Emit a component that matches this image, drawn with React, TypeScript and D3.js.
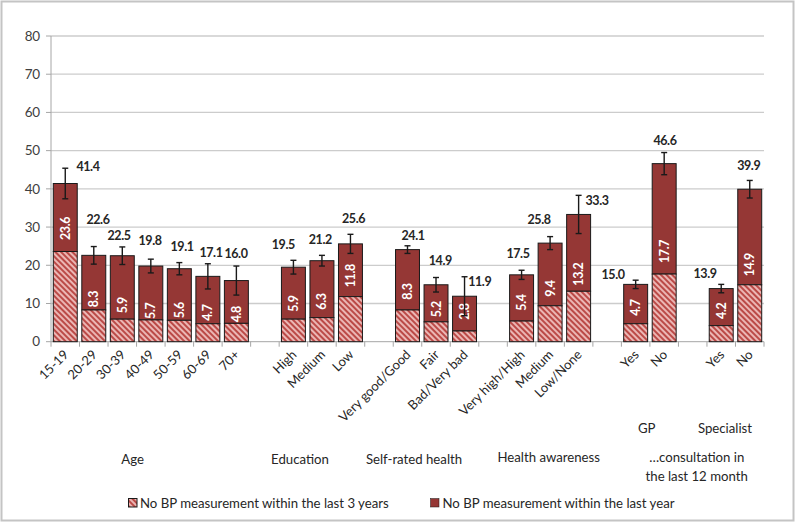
import React from "react";
import * as d3 from "d3";

// ---- data ----
const categories = [
  "15-19", "20-29", "30-39", "40-49", "50-59", "60-69", "70+",
  "High", "Medium", "Low",
  "Very good/Good", "Fair", "Bad/Very bad",
  "Very high/High", "Medium", "Low/None",
  "Yes", "No",
  "Yes", "No",
];
const groupOf = [0, 0, 0, 0, 0, 0, 0, 1, 1, 1, 2, 2, 2, 3, 3, 3, 4, 4, 5, 5];
const groupNames = ["Age", "Education", "Self-rated health", "Health awareness", "GP", "Specialist"];
const noteLines = ["\u2026consultation in", "the last 12 month"];
// total: no BP measurement within the last year
const lastYear = [41.4, 22.6, 22.5, 19.8, 19.1, 17.1, 16.0, 19.5, 21.2, 25.6, 24.1, 14.9, 11.9, 17.5, 25.8, 33.3, 15.0, 46.6, 13.9, 39.9];
// no BP measurement within the last 3 years
const last3Years = [23.6, 8.3, 5.9, 5.7, 5.6, 4.7, 4.8, 5.9, 6.3, 11.8, 8.3, 5.2, 2.8, 5.4, 9.4, 13.2, 4.7, 17.7, 4.2, 14.9];
const errorHalf = [4.0, 2.3, 2.3, 1.8, 1.6, 3.3, 3.8, 1.8, 1.4, 2.5, 1.0, 1.9, 5.1, 1.2, 1.7, 5.0, 1.1, 2.9, 1.1, 2.3];
const yTicks = [0, 10, 20, 30, 40, 50, 60, 70, 80];
const seriesNames = ["No BP measurement within the last 3 years", "No BP measurement within the last year"];

// ---- layout (label nudges, px) ----
const totalLabelNudge: [number, number][] = [
  [22.7, -16.8], [4.2, -36.3], [-3.3, -20.7], [-0.8, -25.3], [2.7, -22], [3.1, -24.1], [-0.4, -27.3],
  [-10.1, -22.2], [-1.6, -20.7], [3.1, -24.9],
  [5.5, -14.6], [4.3, -24.1], [15.2, -15.2],
  [-3.6, -21.5], [-11.1, -24.1], [18.4, -14.4],
  [-22.6, -10.1], [0.8, -22.9],
  [-16.2, -14.6], [-1, -23.5],
];
const innerLabelGap = [10.5, 1.7, 4.8, 0, 1, 2, 0, 6.5, 7, 8.3, 9.3, 3.5, 10.3, 9.4, 8, 4.6, 7, 10, 5.7, 7.5];
const groupLabelPos: [number, number][] = [
  [132.7, 459], [300, 459], [414, 459], [548.7, 457.5], [646.7, 428], [725, 428],
];

const W = 800;
const H = 523;
const FONT = "Lato, 'Open Sans', sans-serif";
const DARK = "#953735";
const TXT = "#262626";

export default function App() {
  const slots: string[] = [];
  const slotOf: number[] = [];
  categories.forEach((c, i) => {
    if (i > 0 && groupOf[i] !== groupOf[i - 1]) slots.push("gap" + i);
    slotOf.push(slots.length);
    slots.push("c" + i);
  });

  const x = d3.scaleBand<string>().domain(slots).range([51, 764]).paddingInner(0.16).paddingOuter(0.08);
  const y = d3.scaleLinear().domain([0, 80]).range([341.7, 36]);
  const step = x.step();
  const bw = x.bandwidth();
  const cx = (i: number) => (x(slots[slotOf[i]]) as number) + bw / 2;
  const boundaries = d3.range(slots.length + 1).map((k) => 51 + k * step);

  return (
    <svg width={W} height={H} style={{ position: "absolute", left: 0, top: 0, background: "#fff" }} fontFamily={FONT}>
      <defs>
        <pattern id="hatch" patternUnits="userSpaceOnUse" width="4" height="4" patternTransform="rotate(-45)">
          <rect width="4" height="4" fill="#ebb6b4" />
          <rect width="2" height="4" fill="#bb4a47" />
        </pattern>
      </defs>
      <rect x={1.5} y={1.5} width={792} height={519} fill="#fff" stroke="#c4c4c4" strokeWidth={2} />

      {/* grid */}
      {yTicks.map((t) => (
        <g key={t}>
          {t > 0 && <line x1={51} x2={764} y1={y(t)} y2={y(t)} stroke="#cccccc" strokeWidth={1.3} />}
          <line x1={46} x2={51} y1={y(t)} y2={y(t)} stroke="#a6a6a6" />
          <text x={39.5} y={y(t)} dy="0.35em" textAnchor="end" fontSize={13.5} letterSpacing={-0.5} fill="#404040">{t}</text>
        </g>
      ))}
      <line x1={51} x2={51} y1={y(80)} y2={y(0)} stroke="#a6a6a6" />
      <line x1={51} x2={764} y1={y(0)} y2={y(0)} stroke="#a6a6a6" />
      {boundaries.map((b, k) => (
        <line key={k} x1={b} x2={b} y1={y(0)} y2={y(0) + 5} stroke="#a6a6a6" />
      ))}

      {/* bars */}
      {categories.map((c, i) => {
        const x0 = x(slots[slotOf[i]]) as number;
        return (
          <g key={i}>
            <rect x={x0} y={y(lastYear[i])} width={bw} height={y(last3Years[i]) - y(lastYear[i])} fill={DARK} stroke="#1a1a1a" strokeWidth={1} />
            <rect x={x0} y={y(last3Years[i])} width={bw} height={y(0) - y(last3Years[i])} fill="url(#hatch)" stroke="#1a1a1a" strokeWidth={1} />
          </g>
        );
      })}

      {/* inner labels */}
      {categories.map((c, i) => (
        <text key={i} transform={`translate(${cx(i)},${y(last3Years[i]) - innerLabelGap[i] - 1}) rotate(-90)`} dy="0.36em" textAnchor="start" fontSize={12.5} letterSpacing={-0.4} fontWeight="bold" fill="#fff">
          {last3Years[i].toFixed(1)}
        </text>
      ))}

      {/* error bars */}
      {categories.map((c, i) => {
        const xc = cx(i);
        const hi = y(lastYear[i] + errorHalf[i]);
        const lo = y(lastYear[i] - errorHalf[i]);
        return (
          <g key={i} stroke="#1a1a1a" strokeWidth={1.4}>
            <line x1={xc} x2={xc} y1={hi} y2={lo} />
            <line x1={xc - 3} x2={xc + 3} y1={hi} y2={hi} />
            <line x1={xc - 3} x2={xc + 3} y1={lo} y2={lo} />
          </g>
        );
      })}

      {/* total labels */}
      {categories.map((c, i) => (
        <text key={i} x={cx(i) + totalLabelNudge[i][0]} y={y(lastYear[i]) + totalLabelNudge[i][1]} dy="0.36em" textAnchor="middle" fontSize={12.5} letterSpacing={-0.4} fontWeight="bold" fill={TXT}>
          {lastYear[i].toFixed(1)}
        </text>
      ))}

      {/* category labels */}
      {categories.map((c, i) => (
        <text key={i} transform={`translate(${cx(i) + 4},${355.5}) rotate(-45)`} textAnchor="end" fontSize={13} fill={TXT}>
          {c}
        </text>
      ))}

      {/* group labels */}
      {groupNames.map((g, k) => (
        <text key={g} x={groupLabelPos[k][0]} y={groupLabelPos[k][1]} dy="0.35em" textAnchor="middle" fontSize={13.2} fill={TXT}>
          {g}
        </text>
      ))}
      {noteLines.map((l, k) => (
        <text key={k} x={696.7} y={457.3 + k * 19.4} dy="0.35em" textAnchor="middle" fontSize={13.2} fill={TXT}>
          {l}
        </text>
      ))}

      {/* legend */}
      <g>
        <rect x={128.5} y={498.5} width={8.5} height={8.5} fill="url(#hatch)" stroke="#1a1a1a" />
        <text x={140} y={503} dy="0.35em" fontSize={13.2} fill={TXT}>{seriesNames[0]}</text>
        <rect x={430.5} y={498.5} width={8.5} height={8.5} fill={DARK} stroke="#1a1a1a" strokeWidth={0.5} />
        <text x={442.5} y={503} dy="0.35em" fontSize={13.2} fill={TXT}>{seriesNames[1]}</text>
      </g>
    </svg>
  );
}
